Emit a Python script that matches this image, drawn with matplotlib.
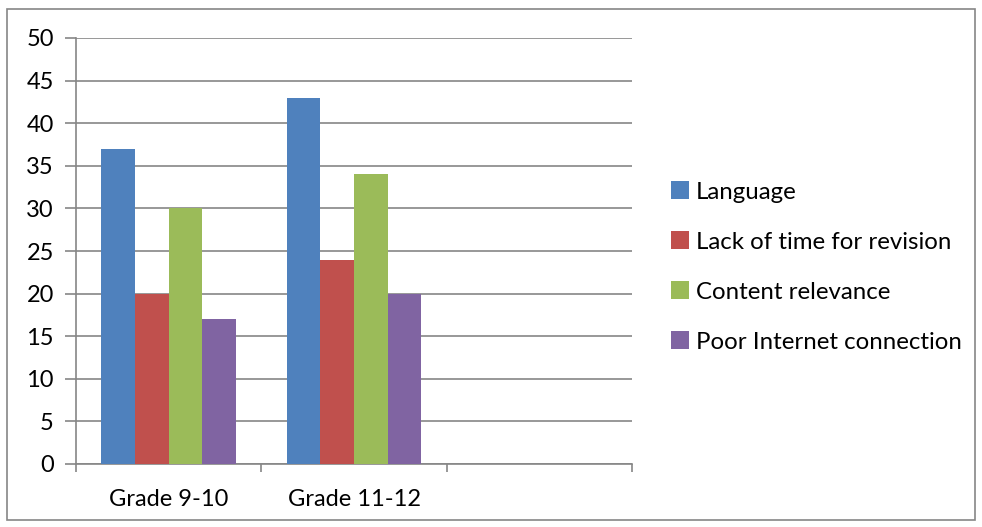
import numpy as np
import matplotlib.pyplot as plt
from matplotlib.patches import Rectangle

categories = ['Grade 9-10', 'Grade 11-12', '']
series = ['Language', 'Lack of time for revision', 'Content relevance', 'Poor Internet connection']
language = [37, 43, np.nan]
lack_time = [20, 24, np.nan]
content = [30, 34, np.nan]
internet = [17, 20, np.nan]
colors = ['#4f81bd', '#c0504d', '#9bbb59', '#8064a2']

plt.rcParams['font.family'] = ['Lato', 'DejaVu Sans']

fig = plt.figure(figsize=(9.82, 5.27), dpi=100)
ax = fig.add_axes([76 / 982, 1 - 464 / 527, (632 - 76) / 982, (464 - 38) / 527])

x = np.arange(len(categories))
w = 0.182
for i, (vals, c, name) in enumerate(zip([language, lack_time, content, internet], colors, series)):
    ax.bar(x + (i - 1.5) * w, vals, w, color=c, label=name, zorder=3)

ax.set_xlim(-0.5, 2.5)
ax.set_ylim(0, 50)
ax.set_yticks(range(0, 51, 5))
ax.yaxis.grid(True, color='#868686', linewidth=1.2, zorder=0)
ax.set_xticks([-0.5, 0.5, 1.5, 2.5], minor=False)
ax.set_xticklabels([])
ax.set_xticks(x, minor=True)
ax.set_xticklabels(categories, minor=True, fontsize=17)
ax.tick_params(axis='x', which='minor', length=0, pad=18)
ax.tick_params(axis='x', which='major', length=6, color='#868686', width=1.2)
ax.tick_params(axis='y', length=8, color='#868686', width=1.2, labelsize=17, pad=8)
for s in ['top', 'right']:
    ax.spines[s].set_visible(False)
for s in ['left', 'bottom']:
    ax.spines[s].set_color('#868686')
    ax.spines[s].set_linewidth(1.2)

leg = ax.legend(loc='center left', bbox_to_anchor=(661 / 982, 1 - 267 / 527),
                bbox_transform=fig.transFigure, frameon=False, fontsize=17.3,
                handlelength=0.75, handleheight=0.75, handletextpad=0.3, labelspacing=1.2,
                borderaxespad=0)

fig.patches.append(Rectangle((7 / 982, 1 - 520 / 527), 1 - 14 / 982, 1 - 16 / 527,
                             transform=fig.transFigure, fill=False, edgecolor='#868686', linewidth=1.2))

fig.savefig('out.png')
